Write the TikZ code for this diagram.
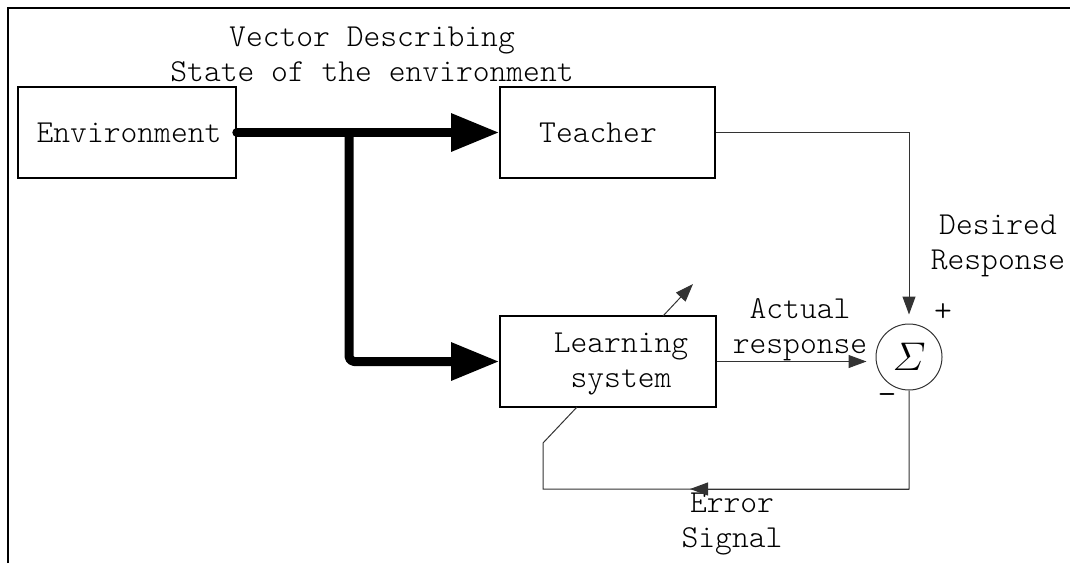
\RequirePackage{fix-cm}
\documentclass[tikz,border=0pt]{standalone}
\usepackage{amsmath}
\usepackage{amssymb}
\usepackage{fontspec}
\setmonofont{Latin Modern Mono Light}
\usetikzlibrary{arrows.meta}

\begin{document}
\begin{tikzpicture}[x=1pt,y=-1pt,font=\ttfamily\fontsize{32}{35}\selectfont,
	box/.style={draw,line width=1.6pt,inner sep=0pt,minimum height=91pt},
	lbl/.style={inner sep=0pt,align=center},
	thin/.style={line width=1pt,draw=black!80},
	thinarrow/.style={thin,-{Triangle[length=18pt,width=13pt]}},
	fatarrow/.style={line width=9pt,line cap=round,line join=round,rounded corners=5pt,-{Triangle[length=48pt,width=36pt]}}]
			%\draw [help lines] (0,0) grid (1070,563);
			\useasboundingbox (0,0) rectangle (1070,563);
			\draw[line width=2pt] (8,563) -- (8,8) -- (1070,8);

			\node[box,minimum width=218pt] (env) at (127,132.5) {};
			\node[box,minimum width=215pt] (teach) at (607.5,132.5) {};
			\node[box,minimum width=216pt] (learn) at (608,361.5) {};
			\node[draw,circle,thin,minimum size=66pt,inner sep=0pt,font=\fontsize{40}{44}\selectfont] (sum) at (909,357) {$\varSigma$};

			\node[lbl] (envtext) at (129,133) {Environment};
			\node[lbl] (teachtext) at (598,133) {Teacher};
			\node[lbl] (learntext) at (621,364) {Learning\\system};

			\node[lbl] (vector) at (372,54) {Vector Describing\\State of the environment};
			\node[lbl] (actual) at (800,330) {Actual\\response};
			\node[lbl] (desired) at (998,246) {Desired\\Response};
			\node[lbl] (error) at (732,524) {Error\\Signal};
			\node[lbl,font=\ttfamily\fontsize{34}{36}\selectfont] (plus) at (943,313) {+};
			\node[lbl,font=\ttfamily\fontsize{36}{36}\selectfont] (minus) at (887,400) {-};

			\coordinate (split) at (349,132.5);
			\coordinate (errR) at (909,489);
			\coordinate (errL) at (543,489);
			\coordinate (errK) at (543,443);
			\coordinate (adjust) at (577,407);
			\coordinate (errtip) at (690,489);
			\coordinate (outfoot) at (663,316);
			\coordinate (outtip) at (693,284);

			\draw[fatarrow] (env.east) -- (teach.west);
			\draw[fatarrow] (split) |- (learn.west);

			\draw[thinarrow,shorten >=9pt] (teach.east) -| (sum.north);
			\draw[thinarrow,shorten >=9pt] (learn.east) -- (learn.east -| sum.west);
			\draw[thin] (sum.south) -- (errR) -- (errL) -- (errK) -- (adjust);
			\draw[thinarrow] (errR) -- (errtip);
			\draw[thinarrow] (outfoot) -- (outtip);
		\end{tikzpicture}
\end{document}
